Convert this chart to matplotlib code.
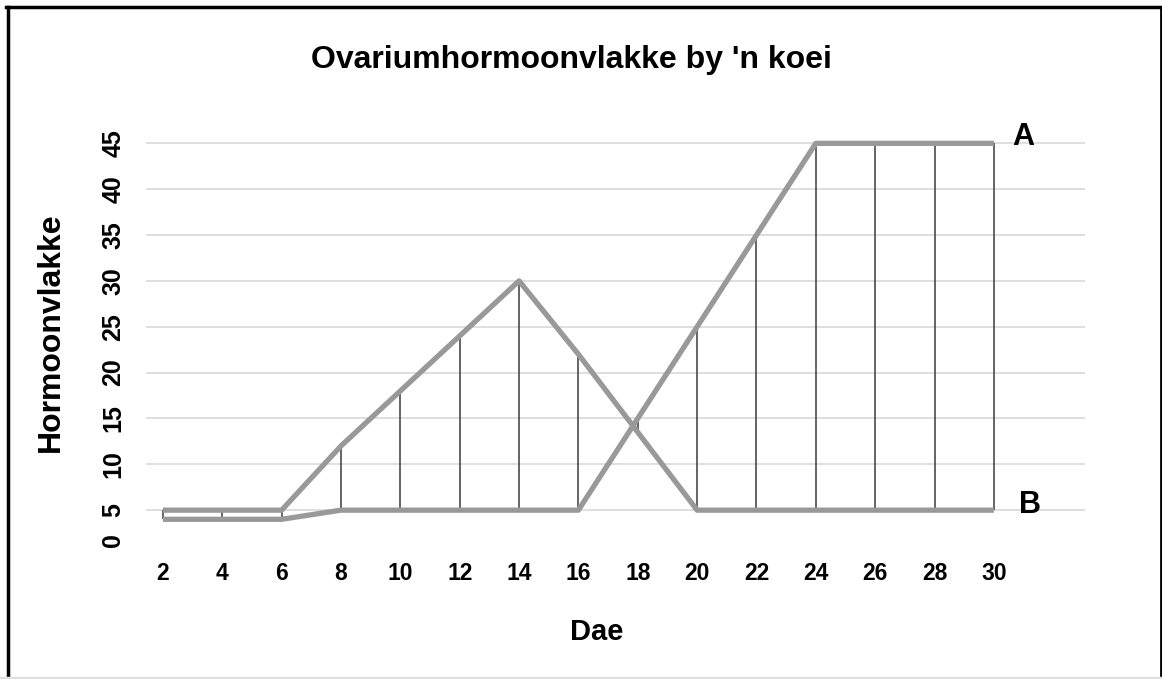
import matplotlib.pyplot as plt
import matplotlib.transforms as mtransforms
from matplotlib.lines import Line2D
import numpy as np

plt.rcParams['font.family'] = ['Liberation Sans', 'DejaVu Sans']

days = [2, 4, 6, 8, 10, 12, 14, 16, 18, 20, 22, 24, 26, 28, 30]
hormone_a = [4, 4, 4, 5, 5, 5, 5, 5, 15, 25, 35, 45, 45, 45, 45]
hormone_b = [5, 5, 5, 12, 18, 24, 30, 22, 13.5, 5, 5, 5, 5, 5, 5]
y_ticks = [0, 5, 10, 15, 20, 25, 30, 35, 40, 45]

W, H = 1162, 679
fig = plt.figure(figsize=(W / 100, H / 100), dpi=100)
ax = fig.add_axes([146 / W, (H - 556) / H, 939 / W, 431 / H])

ax.set_xlim(1.43, 33.07)
ax.set_ylim(0, 47)

# high-low lines between the two series
ax.vlines(days, np.minimum(hormone_a, hormone_b), np.maximum(hormone_a, hormone_b),
          color='#3a3a3a', linewidth=1.1, zorder=2)
ax.plot(days, hormone_a, color='#999999', linewidth=3.8, zorder=3, solid_capstyle='butt')
ax.plot(days, hormone_b, color='#999999', linewidth=3.8, zorder=3, solid_capstyle='butt')

ax.text(30.98, 45.7, 'A', fontsize=22, fontweight='bold', ha='center', va='center')
ax.text(31.2, 5.6, 'B', fontsize=22, fontweight='bold', ha='center', va='center')

ax.set_xticks(days)
ax.set_xticklabels([str(d) for d in days], fontsize=16.5, fontweight='bold')
ax.set_yticks(y_ticks)
ax.set_yticklabels([str(v) for v in y_ticks], fontsize=18, fontweight='bold',
                   rotation=90, va='center')
ax.tick_params(axis='both', length=0)
ax.tick_params(axis='x', pad=4)
ax.tick_params(axis='y', pad=15)

ax.yaxis.grid(True, color='#d9d9d9', linewidth=1.2)
ax.set_axisbelow(True)
ax.get_ygridlines()[0].set_visible(False)

# the zero label sits a bit higher than its gridline position
zero_lbl = ax.get_yticklabels()[0]
zero_lbl.set_transform(zero_lbl.get_transform() +
                       mtransforms.ScaledTranslation(0, 16 / 100, fig.dpi_scale_trans))

for s in ax.spines.values():
    s.set_visible(False)

fig.text(571 / W, 1 - 60 / H, "Ovariumhormoonvlakke by 'n koei",
         fontsize=23, fontweight='bold', ha='center', va='center')
fig.text(597 / W, 1 - 632 / H, 'Dae', fontsize=21, fontweight='bold',
         ha='center', va='center')
fig.text(51 / W, 1 - 332 / H, 'Hormoonvlakke', fontsize=23, fontweight='bold',
         ha='center', va='center', rotation=90)

# outer frame
fig.add_artist(Line2D([7.5 / W, 7.5 / W], [0, 1 - 7 / H], color='black', linewidth=2.5,
                      transform=fig.transFigure))
fig.add_artist(Line2D([6 / W, 1], [1 - 7 / H, 1 - 7 / H], color='black', linewidth=2.5,
                      transform=fig.transFigure))
fig.add_artist(Line2D([1 - 1.5 / W, 1 - 1.5 / W], [0, 1 - 7 / H], color='black',
                      linewidth=2.0, transform=fig.transFigure))
fig.add_artist(Line2D([0, 1], [1.5 / H, 1.5 / H], color='#e0e0e0', linewidth=2.5,
                      transform=fig.transFigure))

fig.savefig('out.png', dpi=100)
